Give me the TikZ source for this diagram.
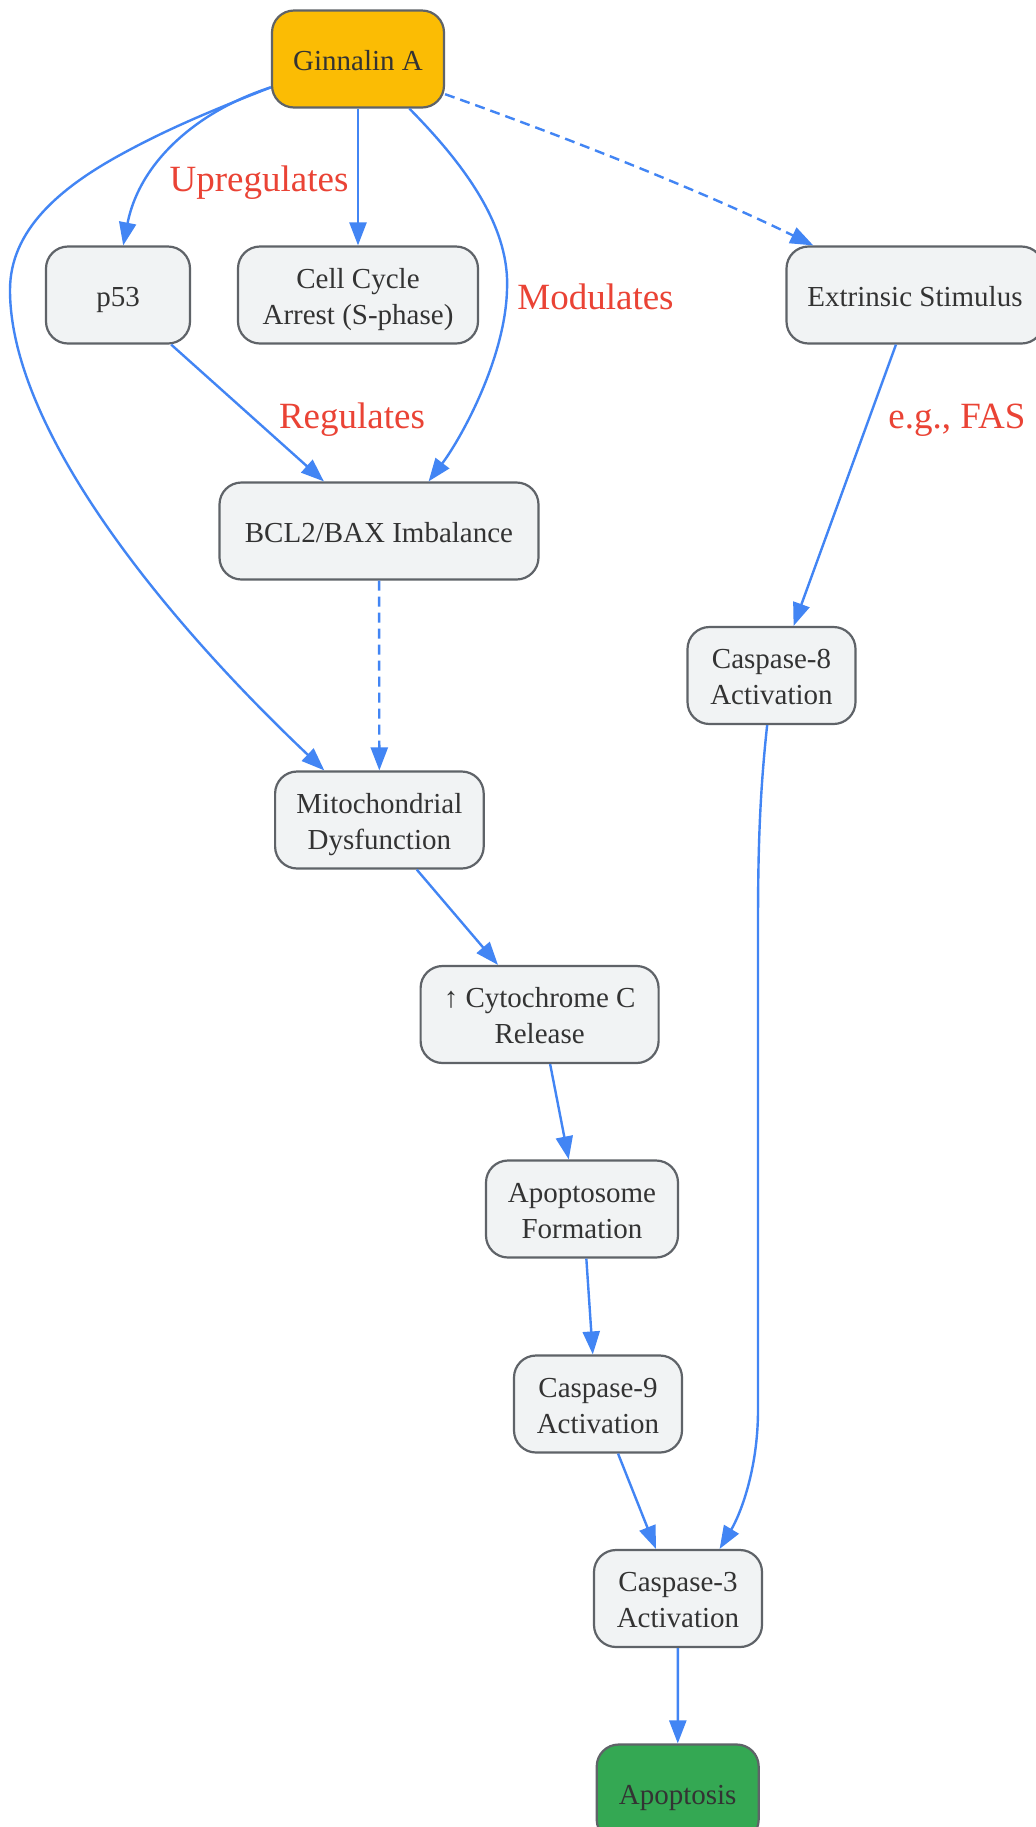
\documentclass[tikz,border=0pt]{standalone}
\usepackage{fontspec}
\setmainfont{Liberation Serif}
\usetikzlibrary{arrows.meta,positioning}
\definecolor{edgeblue}{HTML}{4285F4}
\definecolor{labelred}{HTML}{EA4335}
\definecolor{boxgray}{HTML}{F1F3F4}
\definecolor{boxline}{HTML}{5F6368}
\definecolor{ginyellow}{HTML}{FBBC04}
\definecolor{apogreen}{HTML}{34A853}
\definecolor{textgray}{HTML}{333333}
\tikzset{>={Triangle[length=11.5pt,width=8.5pt]},
   flow/.style={->,draw=edgeblue,line width=1.2pt},
   weakflow/.style={flow,dash pattern=on 5pt off 3pt}
 }

\begin{document}
\begin{tikzpicture}[x=0.5pt,y=-0.5pt]
  \tikzstyle{path_node}=[draw=boxline,line width=1.1pt,fill=boxgray,rounded corners=11pt,minimum height=48.5pt,inner sep=0pt,align=center,text=textgray,font=\fontsize{14.5}{18}\selectfont,text height=13pt,text depth=2pt]
  \tikzstyle{two_line}=[text height=31pt]
  \tikzstyle{edge_label}=[inner sep=0pt,text=labelred,font=\fontsize{18.5}{22}\selectfont,text height=15pt,text depth=2pt]
  \path[use as bounding box,fill=white] (0,0) rectangle (1036,1827);

  % nodes
  \node[path_node, fill=ginyellow, minimum width=86pt] (gin) at (358,59) {Ginnalin A};
  \node[path_node, minimum width=72pt] (p53) at (118,295) {p53};
  \node[path_node, two_line, minimum width=120pt] (cell) at (358,295) {Cell Cycle\\Arrest (S-phase)};
  \node[path_node, minimum width=128.5pt] (ext) at (915,295) {Extrinsic Stimulus};
  \node[path_node, minimum width=159.5pt] (bcl2) at (379,531) {BCL2/BAX Imbalance};
  \node[path_node, two_line, minimum width=84pt] (casp8) at (771.5,675.5) {Caspase-8\\Activation};
  \node[path_node, two_line, minimum width=104.3pt] (mito) at (379.4,820) {Mitochondrial\\Dysfunction};
  \node[path_node, two_line, minimum width=119pt] (cyto) at (539.6,1014.5) {↑ Cytochrome C\\Release};
  \node[path_node, two_line, minimum width=96pt] (apopt) at (582,1209) {Apoptosome\\Formation};
  \node[path_node, two_line, minimum width=84pt] (casp9) at (598,1404) {Caspase-9\\Activation};
  \node[path_node, two_line, minimum width=84pt] (casp3) at (678,1598.5) {Caspase-3\\Activation};
  \node[path_node, fill=apogreen, minimum width=81pt] (apo) at (677.7,1793) {Apoptosis};

  % edge labels
  \node[edge_label] (lblup) at (259,178) {Upregulates};
  \node[edge_label] (lblmod) at (595.5,296) {Modulates};
  \node[edge_label] (lblreg) at (352,415) {Regulates};
  \node[edge_label] (lblfas) at (957,415) {e.g., FAS};

  % connectors
  \draw[flow] (gin.198) .. controls (200,110) and (140,160) .. (p53.84);
  \draw[flow] (gin.198) .. controls (200,115) and (160,133) .. (120,155) .. controls (60,188) and (10,230) .. (10,290)
     .. controls (10,425) and (155,610) .. (mito.138);
  \path (gin) edge[flow] (cell);
  \draw[flow] (gin.316) .. controls (470,170) and (510,230) .. (507,290)
     .. controls (505,360) and (460,440) .. (bcl2.45);
  \draw[weakflow] (gin.338) .. controls (560,135) and (700,190) .. (ext.154);
  \path (p53.317) edge[flow] (bcl2.138);
  \path (bcl2) edge[weakflow] (mito);
  \path (ext.249.6) edge[flow] (casp8.66.6);
  \draw[flow] (casp8.265) .. controls (759,800) and (758,860) .. (758,930) -- (758,1410)
     .. controls (758,1470) and (740,1515) .. (casp3.50);
  \path (mito.307.8) edge[flow] (cyto.130);
  \path (cyto.282) edge[flow] (apopt.105.5);
  \path (apopt.275) edge[flow] (casp9.96);
  \path (casp9.292) edge[flow] (casp3.114.4);
  \path (casp3) edge[flow] (apo);
\end{tikzpicture}
\end{document}
